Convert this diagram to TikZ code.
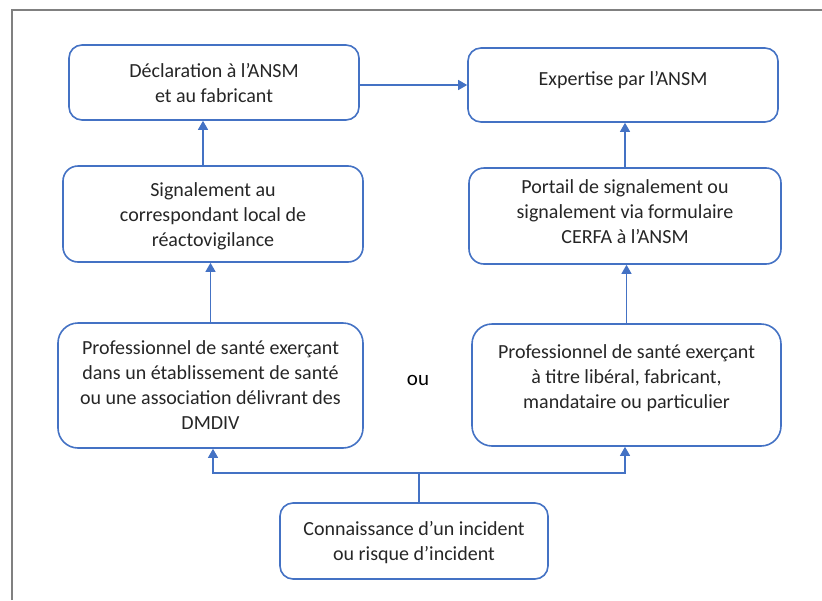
\documentclass[tikz,border=0pt]{standalone}
\usepackage{fontspec}
\setmainfont{Carlito}
\usetikzlibrary{arrows.meta}
\definecolor{bleu}{HTML}{4472C4}
\definecolor{txt}{HTML}{262626}
\definecolor{cadre}{HTML}{808080}
\newcommand{\Stk}[1]{\begin{tabular}{@{}c@{}}#1\end{tabular}}
\newcommand{\Up}[2]{\raisebox{#1}[\height][\depth]{#2}}
\begin{document}
\begin{tikzpicture}[x=1pt,y=-1pt,
  box/.style={draw=bleu, line width=1.6pt, fill=white, rounded corners=13pt,
    text=txt, font=\fontsize{20}{25}\selectfont, inner sep=0pt},
  conn/.style={draw=bleu, line width=1.1pt},
  arr/.style={conn, -{Triangle[width=10pt,length=9pt]}}]
\useasboundingbox (0,0) rectangle (822,600);
\draw[cadre, line width=2pt] (11.7,600) -- (11.7,10) -- (822,10);

\node[box, minimum width=290pt, minimum height=75pt] (A) at (214,82.5)
  {\Up{-2.5pt}{\Stk{Déclaration à l’ANSM\\ et au fabricant}}};
\node[box, minimum width=310pt, minimum height=74pt] (B) at (623,85)
  {\Up{5pt}{Expertise par l’ANSM}};
\node[box, rounded corners=15pt, minimum width=300pt, minimum height=96pt] (C) at (213,214)
  {\Up{-2pt}{\Stk{Signalement au\\ correspondant local de\\ réactovigilance}}};
\node[box, rounded corners=15pt, minimum width=312pt, minimum height=96pt] (D) at (625,216)
  {\Up{3pt}{\Stk{Portail de signalement ou\\ signalement via formulaire\\ CERFA à l’ANSM}}};
\node[box, rounded corners=20pt, minimum width=305pt, minimum height=125pt] (E) at (210.5,385.5)
  {\Up{-1.5pt}{\Stk{Professionnel de santé exerçant\\ dans un établissement de santé\\ ou une association délivrant des\\ DMDIV}}};
\node[box, rounded corners=20pt, minimum width=309pt, minimum height=122pt] (F) at (626.5,385)
  {\Up{7pt}{\Stk{Professionnel de santé exerçant\\ à titre libéral, fabricant,\\ mandataire ou particulier}}};
\node[box, minimum width=268pt, minimum height=76pt] (G) at (414,541)
  {\Up{-1.5pt}{\Stk{Connaissance d’un incident\\ ou risque d’incident}}};
\node[font=\fontsize{21}{25}\selectfont, text=black] (ou) at (418,380) {ou};

\draw[arr] (A.east |- B.west) -- (B.west);
\draw[arr] ([xshift=-10pt]C.north) -- ([xshift=-10pt]C.north |- A.south);
\draw[arr] (D.north) -- (D.north |- B.south);
\draw[arr] (E.north) -- (E.north |- C.south);
\draw[arr] (F.north) -- (F.north |- D.south);
\coordinate (J) at (419,473);
\draw[conn] ([xshift=5pt]G.north) -- (J);
\draw[arr] (J) -| ([xshift=2.5pt]E.south);
\draw[arr] (J) -| ([xshift=-1.5pt]F.south);
\end{tikzpicture}
\end{document}
